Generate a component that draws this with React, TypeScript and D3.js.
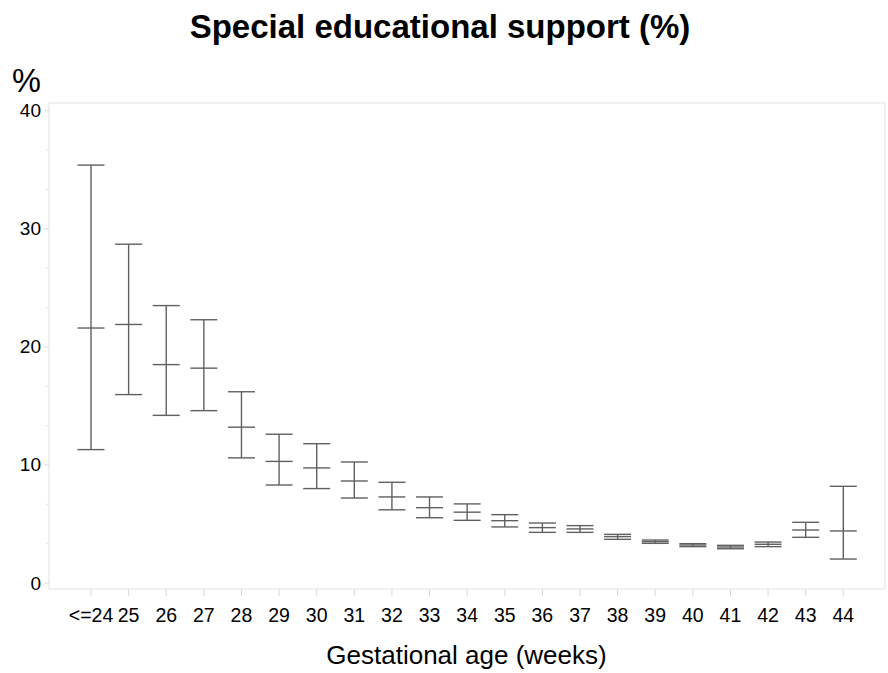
import React from "react";
import * as d3 from "d3";

const categories = ["<=24","25","26","27","28","29","30","31","32","33","34","35","36","37","38","39","40","41","42","43","44"];
const estimate = [21.6,21.9,18.5,18.2,13.2,10.3,9.75,8.64,7.29,6.38,6.0,5.28,4.69,4.58,3.93,3.5,3.22,3.05,3.28,4.49,4.41];
const lower = [11.3,15.96,14.2,14.6,10.6,8.3,8.0,7.2,6.2,5.53,5.31,4.75,4.29,4.29,3.7,3.36,3.08,2.9,3.08,3.87,2.03];
const upper = [35.4,28.7,23.5,22.3,16.2,12.6,11.8,10.25,8.53,7.29,6.7,5.79,5.08,4.86,4.12,3.64,3.33,3.19,3.47,5.14,8.19];
const yMajorTicks = [0,10,20,30,40];

const W = 888, H = 673;
const frame = { left: 49, top: 103, right: 885, bottom: 589 };

export default function App() {
  const x = d3.scalePoint<string>().domain(categories).range([91, 843.3]);
  const y = d3.scaleLinear().domain([0, 40]).range([583, 110.8]);
  const minor: number[] = [];
  for (let i = 0; i < 4; i++) { minor.push(i * 10 + 10 / 3, i * 10 + 20 / 3); }
  const capHalf = 13.5;
  const font = "Arial, 'Liberation Sans', sans-serif";
  const stroke = "#606060";
  return (
    <svg width={W} height={H} style={{ position: "absolute", left: 0, top: 0, background: "#fff" }} fontFamily={font}>
      <rect x={0} y={0} width={W} height={H} fill="#fff" />
      <text x={440} y={37.5} textAnchor="middle" fontSize={33} fontWeight="bold" fill="#000">Special educational support (%)</text>
      <text x={26.5} y={92} textAnchor="middle" fontSize={32.5} fill="#000">%</text>
      <rect x={frame.left} y={frame.top} width={frame.right - frame.left} height={frame.bottom - frame.top} fill="none" stroke="#e2e2e2" strokeWidth={1} />
      {yMajorTicks.map((t) => (
        <g key={"yt" + t}>
          <line x1={frame.left - 5} x2={frame.left} y1={y(t)} y2={y(t)} stroke="#d8d8d8" />
          <text x={41} y={y(t) + 6.5} textAnchor="end" fontSize={19} fill="#000">{t}</text>
        </g>
      ))}
      {minor.map((t, i) => (
        <line key={"ym" + i} x1={frame.left - 3} x2={frame.left} y1={y(t)} y2={y(t)} stroke="#e4e4e4" />
      ))}
      {categories.map((c) => (
        <g key={"xt" + c}>
          <line x1={x(c)!} x2={x(c)!} y1={frame.bottom} y2={frame.bottom + 7} stroke="#d8d8d8" />
          <text x={x(c)!} y={622} textAnchor="middle" fontSize={19.5} fill="#000">{c}</text>
        </g>
      ))}
      <text x={466.5} y={664} textAnchor="middle" fontSize={26} fill="#000">Gestational age (weeks)</text>
      {categories.map((c, i) => {
        const cx = x(c)!;
        return (
          <g key={"eb" + c} stroke={stroke} strokeWidth={1.4}>
            <line x1={cx} x2={cx} y1={y(lower[i])} y2={y(upper[i])} />
            <line x1={cx - capHalf} x2={cx + capHalf} y1={y(upper[i])} y2={y(upper[i])} />
            <line x1={cx - capHalf} x2={cx + capHalf} y1={y(estimate[i])} y2={y(estimate[i])} />
            <line x1={cx - capHalf} x2={cx + capHalf} y1={y(lower[i])} y2={y(lower[i])} />
          </g>
        );
      })}
    </svg>
  );
}
